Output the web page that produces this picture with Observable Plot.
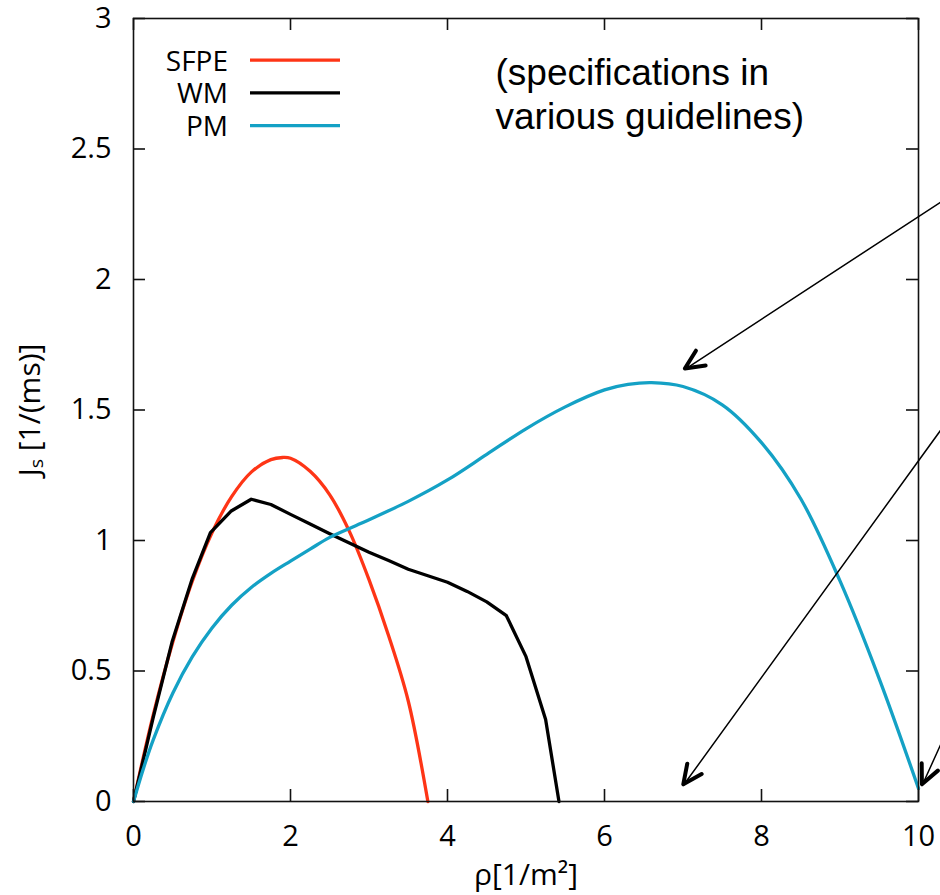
<!DOCTYPE html>
<html>
<head>
<meta charset="utf-8">
<script src="https://cdn.jsdelivr.net/npm/d3@7"></script>
<script src="https://cdn.jsdelivr.net/npm/@observablehq/plot@0.6"></script>
<style>
  body { margin: 0; background: #fff; }
  #chart svg { display: block; }
</style>
</head>
<body>
<div id="chart"></div>
<script>
// ---- data ----
const sfpeX = [0, 0.25, 0.5, 0.75, 1, 1.25, 1.5, 1.75, 1.9, 2, 2.25, 2.5, 2.75, 3, 3.25, 3.5, 3.75];
const sfpeJ = [0, 0.33, 0.61, 0.845, 1.03, 1.168, 1.262, 1.31, 1.318, 1.315, 1.265, 1.175, 1.035, 0.85, 0.635, 0.385, 0];

const wmX = [0, 0.25, 0.49, 0.75, 0.98, 1.24, 1.5, 1.75, 2, 2.25, 2.5, 2.75, 3, 3.25, 3.5, 3.75, 4, 4.25, 4.5, 4.75, 5, 5.25, 5.42];
const wmJ = [0, 0.32, 0.61, 0.855, 1.03, 1.112, 1.158, 1.138, 1.1, 1.063, 1.026, 0.99, 0.955, 0.923, 0.89, 0.865, 0.84, 0.805, 0.765, 0.712, 0.555, 0.314, 0];

const pmX = [0, 0.125, 0.25, 0.5, 0.75, 1, 1.25, 1.5, 1.75, 2, 2.25, 2.5, 2.9, 3.5, 4, 4.5, 5, 5.5, 6, 6.3, 6.6, 7, 7.5, 8, 8.5, 9, 9.5, 10];
const pmJ = [0, 0.125, 0.235, 0.415, 0.555, 0.665, 0.752, 0.82, 0.874, 0.921, 0.967, 1.012, 1.066, 1.15, 1.232, 1.33, 1.428, 1.512, 1.577, 1.598, 1.605, 1.59, 1.52, 1.375, 1.16, 0.845, 0.47, 0.05];

const seriesNames = ["SFPE", "WM", "PM"];
const seriesColors = ["#fe3516", "#000000", "#14a1c5"];

const xTicks = [0, 2, 4, 6, 8, 10];
const yTicks = [0, 0.5, 1, 1.5, 2, 2.5, 3];

const xLabel = "ρ[1/m²]";
const yLabel = "Jₛ [1/(ms)]";
const noteText = "(specifications in\nvarious guidelines)";

// annotation arrows (data coordinates: start -> tip)
const arrowX1 = [10.3, 10.3, 10.3];
const arrowY1 = [2.30, 1.43, 0.23];
const arrowX2 = [7.03, 7.01, 10.05];
const arrowY2 = [1.657, 0.064, 0.064];

// ---- build ----
const W = 940, H = 895;
const mL = 133, mR = 22, mT = 18, mB = 94;
const plotW = W - mL - mR, plotH = H - mT - mB;
const ns = "http://www.w3.org/2000/svg";

const series = [
  {x: sfpeX, y: sfpeJ, curve: "catmull-rom"},
  {x: wmX, y: wmJ, curve: "linear"},
  {x: pmX, y: pmJ, curve: "catmull-rom"}
].map((s, k) => ({...s, name: seriesNames[k], color: seriesColors[k]}));

const lineMarks = series.map(s =>
  Plot.line(d3.range(s.x.length), {
    x: i => s.x[i], y: i => s.y[i],
    stroke: s.color, strokeWidth: 3.3, curve: s.curve,
    strokeLinejoin: "round", strokeLinecap: "round"
  })
);

const arrowIdx = d3.range(arrowX1.length);

function arrowHeads(index, scales) {
  const g = document.createElementNS(ns, "g");
  for (const i of arrowIdx) {
    const x1 = scales.x(arrowX1[i]), y1 = scales.y(arrowY1[i]);
    const x2 = scales.x(arrowX2[i]), y2 = scales.y(arrowY2[i]);
    const a = Math.atan2(y1 - y2, x1 - x2);
    const L = 21, h = 25 * Math.PI / 180;
    const p1 = [x2 + L * Math.cos(a + h), y2 + L * Math.sin(a + h)];
    const p2 = [x2 + L * Math.cos(a - h), y2 + L * Math.sin(a - h)];
    const p = document.createElementNS(ns, "path");
    p.setAttribute("d", `M${p1[0]},${p1[1]}L${x2},${y2}L${p2[0]},${p2[1]}`);
    p.setAttribute("fill", "none");
    p.setAttribute("stroke", "#000");
    p.setAttribute("stroke-width", 4);
    p.setAttribute("stroke-linecap", "round");
    p.setAttribute("stroke-linejoin", "round");
    g.appendChild(p);
  }
  return g;
}

function legend(index, scales, values, dims) {
  const g = document.createElementNS(ns, "g");
  const left = dims.marginLeft, top = dims.marginTop;
  series.forEach((s, k) => {
    const base = top + 52.7 + k * 32.7;
    const t = document.createElementNS(ns, "text");
    t.setAttribute("x", left + 95);
    t.setAttribute("y", base);
    t.setAttribute("text-anchor", "end");
    t.setAttribute("font-size", 28);
    t.setAttribute("font-family", "'Open Sans', sans-serif");
    t.setAttribute("fill", "#000");
    t.textContent = s.name;
    g.appendChild(t);
    const l = document.createElementNS(ns, "line");
    l.setAttribute("x1", left + 117);
    l.setAttribute("x2", left + 207);
    l.setAttribute("y1", base - 10.5);
    l.setAttribute("y2", base - 10.5);
    l.setAttribute("stroke", s.color);
    l.setAttribute("stroke-width", 3.3);
    g.appendChild(l);
  });
  return g;
}

const fmt = d => String(d);

const chart = Plot.plot({
  width: W, height: H,
  marginLeft: mL, marginRight: mR, marginTop: mT, marginBottom: mB,
  style: {fontFamily: "'Open Sans', sans-serif", fontSize: "29px", color: "#000", background: "#fff"},
  x: {domain: [0, 10]},
  y: {domain: [0, 3]},
  marks: [
    ...lineMarks,
    Plot.frame({stroke: "#111", strokeWidth: 1.6}),
    Plot.tickX(xTicks, {x: d => d, insetTop: plotH - 12, stroke: "#111", strokeWidth: 1.6}),
    Plot.tickX(xTicks, {x: d => d, insetBottom: plotH - 12, stroke: "#111", strokeWidth: 1.6}),
    Plot.tickY(yTicks, {y: d => d, insetRight: plotW - 12, stroke: "#111", strokeWidth: 1.6}),
    Plot.tickY(yTicks, {y: d => d, insetLeft: plotW - 12, stroke: "#111", strokeWidth: 1.6}),
    Plot.axisX({ticks: xTicks, tickSize: 0, tickPadding: 24, tickFormat: fmt, label: null}),
    Plot.axisY({ticks: yTicks, tickSize: 0, tickPadding: 22, tickFormat: fmt, label: null}),
    Plot.text([xLabel], {text: d => d, frameAnchor: "bottom", textAnchor: "middle", lineAnchor: "bottom", dy: 83, fontSize: 30}),
    Plot.text([yLabel], {text: d => d, frameAnchor: "left", textAnchor: "middle", rotate: -90, dx: -103, fontSize: 30}),
    Plot.text([noteText], {text: d => d, frameAnchor: "top-left", textAnchor: "start", lineAnchor: "top",
      dx: 362, dy: 36, fontSize: 37, lineHeight: 1.17, fontFamily: "'Liberation Sans', Arial, sans-serif"}),
    Plot.arrow(arrowIdx, {
      x1: i => arrowX1[i], y1: i => arrowY1[i], x2: i => arrowX2[i], y2: i => arrowY2[i],
      stroke: "#000", strokeWidth: 1.5, headLength: 0
    }),
    arrowHeads,
    legend
  ]
});

document.getElementById("chart").appendChild(chart);
</script>
</body>
</html>
